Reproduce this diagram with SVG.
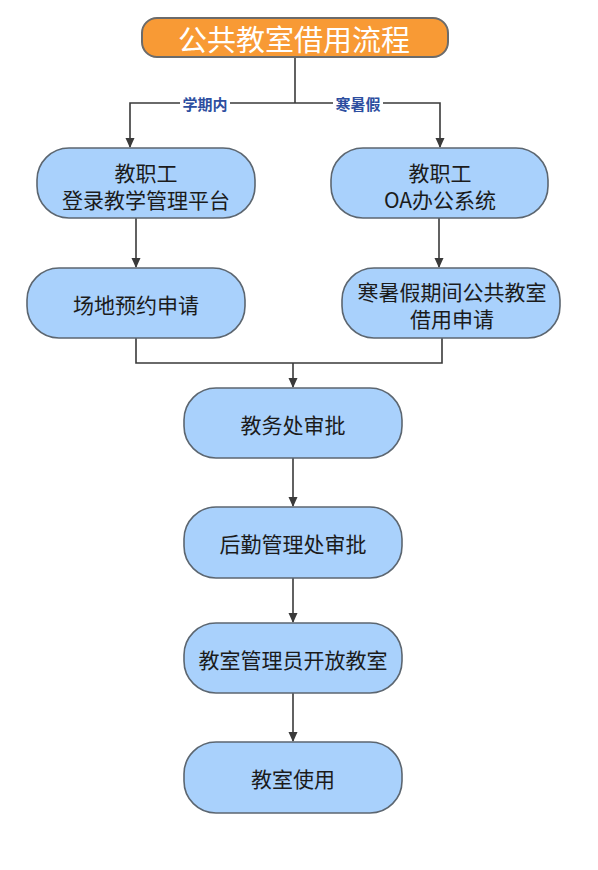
<svg xmlns="http://www.w3.org/2000/svg" width="598" height="870" viewBox="0 0 598 870">
<defs>
<marker id="arr" markerWidth="10" markerHeight="10" refX="9" refY="5" orient="auto" markerUnits="userSpaceOnUse">
<path d="M0,0.5 L10,5 L0,9.5 Z" fill="#3a3a3a"/>
</marker>
<style>
.node rect{fill:#A9D1FC;stroke:#5c6670;stroke-width:1.6}
.node text{font-family:"Noto Sans CJK SC","Liberation Sans",sans-serif;font-size:21px;fill:#1b1b1b;text-anchor:middle;dominant-baseline:central}
.conn{fill:none;stroke:#3a3a3a;stroke-width:1.6}
.lbl{font-family:"Noto Sans CJK SC","Liberation Sans",sans-serif;font-size:15px;font-weight:bold;fill:#2d4ea0;text-anchor:middle;dominant-baseline:central}
</style>
</defs>
<rect width="598" height="870" fill="#ffffff"/>
<g id="connectors">
<path class="conn" d="M295,57 V103"/>
<path class="conn" d="M295,103 H130 V147" marker-end="url(#arr)"/>
<path class="conn" d="M295,103 H440 V147" marker-end="url(#arr)"/>
<rect x="180" y="94" width="50" height="18" fill="#ffffff"/>
<text class="lbl" x="205" y="103">学期内</text>
<rect x="333" y="94" width="50" height="18" fill="#ffffff"/>
<text class="lbl" x="358" y="103">寒暑假</text>
<path class="conn" d="M136,218 V267" marker-end="url(#arr)"/>
<path class="conn" d="M439,218 V267" marker-end="url(#arr)"/>
<path class="conn" d="M136,338 V363 H442 V338"/>
<path class="conn" d="M293,363 V387" marker-end="url(#arr)"/>
<path class="conn" d="M293,458 V506" marker-end="url(#arr)"/>
<path class="conn" d="M293,578 V622" marker-end="url(#arr)"/>
<path class="conn" d="M293,693 V741" marker-end="url(#arr)"/>
</g>
<g id="title">
<rect x="142" y="18" width="306" height="39" rx="15" ry="15" fill="#F89A35" stroke="#6b6b6b" stroke-width="2"/>
<text x="294" y="38" font-family="Noto Sans CJK SC,Liberation Sans,sans-serif" font-size="29" fill="#ffffff" text-anchor="middle" dominant-baseline="central">公共教室借用流程</text>
</g>
<g id="n1" class="node">
<rect x="37" y="148" width="218" height="70" rx="32" ry="32"/>
<text x="146" y="172">教职工</text>
<text x="146" y="199">登录教学管理平台</text>
</g>
<g id="n2" class="node">
<rect x="331" y="148" width="217" height="70" rx="32" ry="32"/>
<text x="440" y="172">教职工</text>
<text x="440" y="199">OA办公系统</text>
</g>
<g id="n3" class="node">
<rect x="27" y="268" width="218" height="70" rx="32" ry="32"/>
<text x="136" y="304">场地预约申请</text>
</g>
<g id="n4" class="node">
<rect x="342" y="268" width="218" height="70" rx="32" ry="32"/>
<text x="452" y="291">寒暑假期间公共教室</text>
<text x="452" y="318">借用申请</text>
</g>
<g id="n5" class="node">
<rect x="184" y="388" width="218" height="70" rx="32" ry="32"/>
<text x="293" y="424">教务处审批</text>
</g>
<g id="n6" class="node">
<rect x="184" y="507" width="218" height="71" rx="32" ry="32"/>
<text x="293" y="543">后勤管理处审批</text>
</g>
<g id="n7" class="node">
<rect x="184" y="623" width="218" height="70" rx="32" ry="32"/>
<text x="293" y="659">教室管理员开放教室</text>
</g>
<g id="n8" class="node">
<rect x="184" y="742" width="218" height="71" rx="32" ry="32"/>
<text x="293" y="778">教室使用</text>
</g>
</svg>
